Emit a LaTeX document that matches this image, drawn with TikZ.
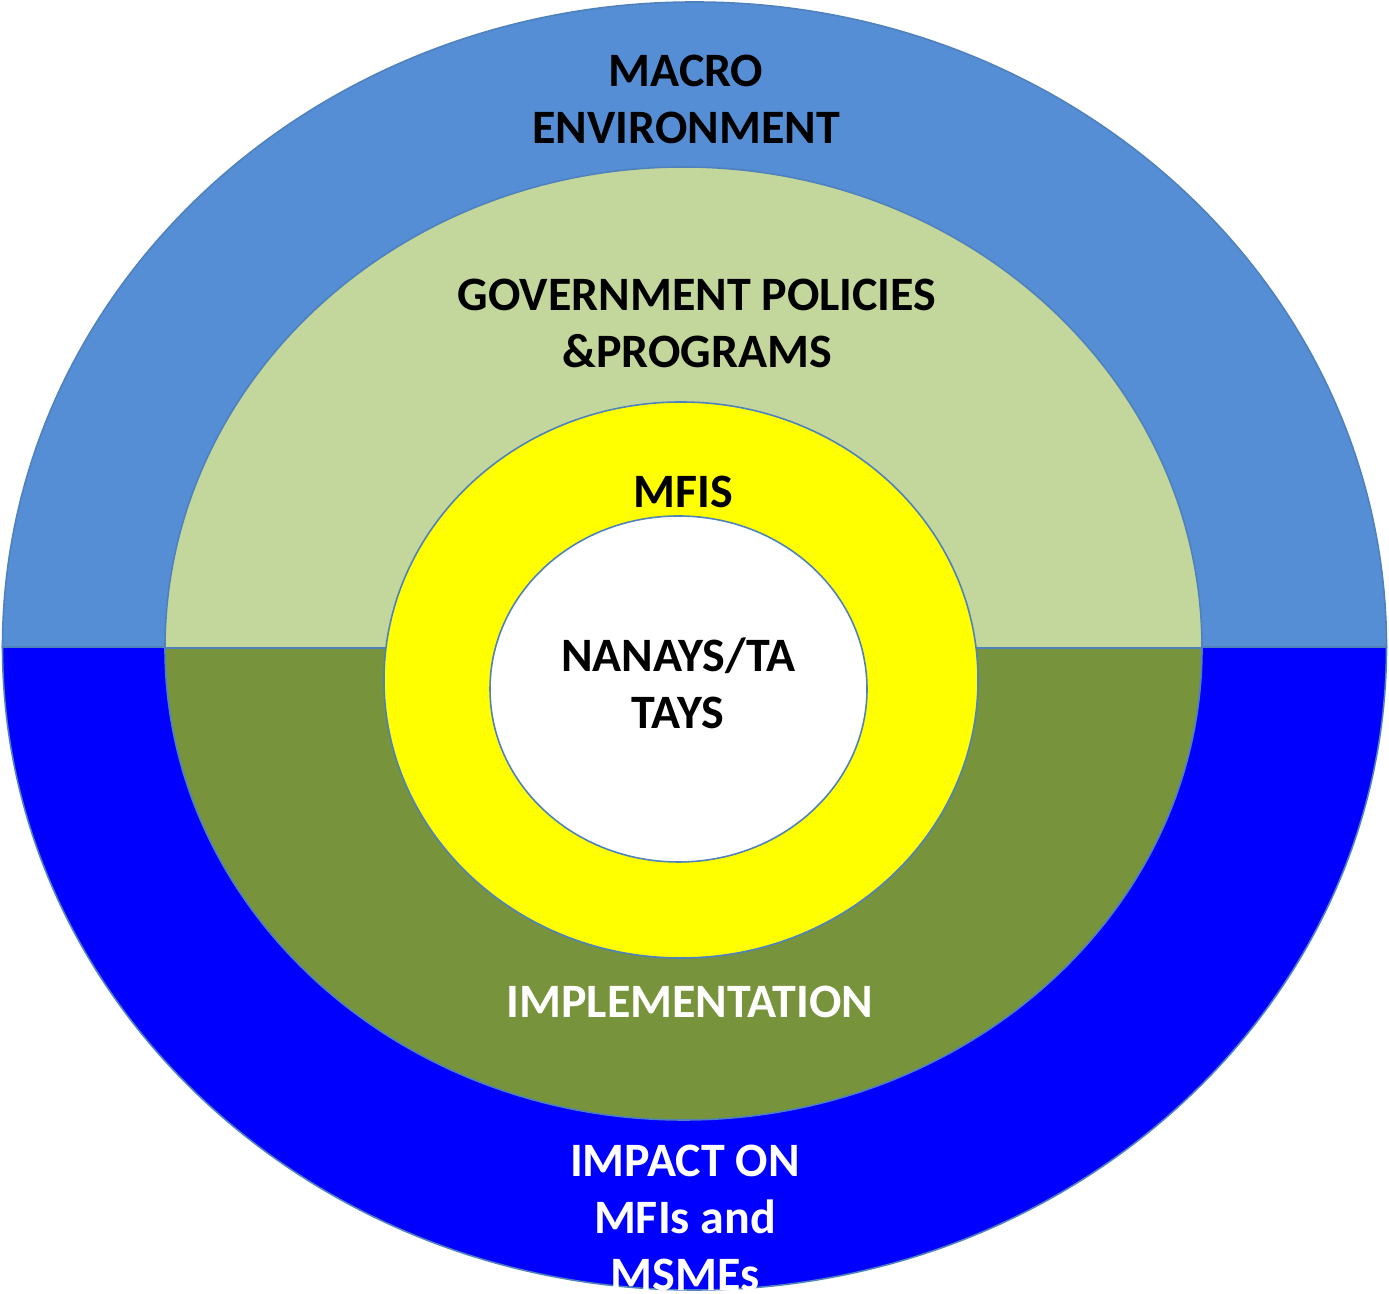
\documentclass[tikz,border=0pt]{standalone}
\usepackage{fontspec}
\setmainfont{Carlito}
\definecolor{macrotop}{RGB}{85,142,213}
\definecolor{macrobot}{RGB}{0,0,255}
\definecolor{govtop}{RGB}{195,214,155}
\definecolor{govbot}{RGB}{119,147,60}
\definecolor{mfiring}{RGB}{255,255,0}
\definecolor{rim}{RGB}{79,129,189}
\tikzset{
  rimline/.style={draw=rim,line width=0.9pt},
  ringtext/.style={font=\fontsize{27.3}{32.5}\selectfont\bfseries,align=center,inner sep=0pt}
}
\begin{document}
\begin{tikzpicture}[x=0.02cm,y=0.02cm]
      \useasboundingbox (0,0) rectangle (1389,1294);
      \draw [rimline,fill=macrotop] (2.5,647) arc (180:0:692 and 645) -- cycle; % Upper outer half.
      \draw [rimline,fill=macrobot] (2.5,647) arc (180:360:692 and 643) -- cycle; % Lower outer half.
      \draw [rimline,fill=govtop] (165,646) arc (180:0:518.5 and 481) -- cycle; % Upper green half.
      \draw [rimline,fill=govbot] (165,646) arc (180:360:518.5 and 472) -- cycle; % Lower green half.
      \draw [rimline,fill=mfiring] (681,614) ellipse (297 and 278);
      \draw [rimline,fill=white] (678.5,605) ellipse (188.5 and 173);

      \node [ringtext] (macro) at (686,1194.5) {MACRO\\ENVIRONMENT};
      \node [ringtext] (gov) at (697,970.5) {GOVERNMENT POLICIES\\\&PROGRAMS};
      \node [ringtext] (mfis) at (683,802) {MFIS};
      \node [ringtext] (nanays) at (678,610.5) {NANAYS/TA\\TAYS};
      \node [ringtext,text=white] (impl) at (690,292) {IMPLEMENTATION};
      \node [ringtext,text=white] (impact) at (685,76) {IMPACT ON\\MFIs and\\MSMEs};
    \end{tikzpicture}
\end{document}
